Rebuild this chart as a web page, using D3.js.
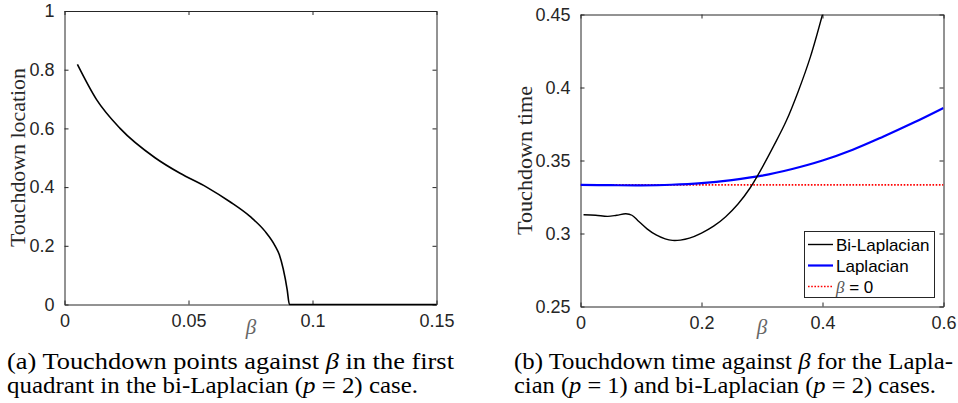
<!DOCTYPE html>
<html>
<head>
<meta charset="utf-8">
<script src="https://cdn.jsdelivr.net/npm/d3@7"></script>
<style>
  body { margin: 0; background: #fff; }
  svg { display: block; }
  .tick text { font-family: "Liberation Sans", Arial, sans-serif; font-size: 18px; fill: #262626; }
  .cap { font-family: "Liberation Serif", "Times New Roman", serif; font-size: 23px; fill: #000; }
</style>
</head>
<body>
<svg id="fig" width="958" height="403"></svg>
<script>
// (a) touchdown location vs beta, bi-Laplacian
const betaA = [0.0052, 0.013, 0.0224, 0.0365, 0.0466, 0.0573, 0.0667, 0.0748, 0.0808, 0.0849, 0.0866, 0.0898, 0.0907, 0.15];
const locA  = [0.818, 0.697, 0.600, 0.500, 0.447, 0.400, 0.350, 0.300, 0.250, 0.200, 0.170, 0.050, 0.000, 0.000];
const xTicksA = [0, 0.05, 0.1, 0.15];
const yTicksA = [0, 0.2, 0.4, 0.6, 0.8, 1];

// (b) touchdown time vs beta
const betaBi = [0.005, 0.025, 0.045, 0.06, 0.075, 0.085, 0.095, 0.11, 0.125, 0.14, 0.152, 0.165, 0.18, 0.2, 0.22, 0.24, 0.26, 0.28, 0.3, 0.32, 0.34, 0.36, 0.38, 0.4];
const timeBi = [0.3128, 0.3125, 0.3117, 0.3125, 0.3135, 0.3125, 0.3088, 0.3032, 0.2990, 0.2963, 0.2953, 0.2955, 0.2968, 0.3003, 0.3050, 0.3115, 0.3200, 0.3310, 0.3450, 0.3605, 0.3770, 0.3975, 0.4210, 0.4500];
const betaLap = [0, 0.05, 0.1, 0.15, 0.2, 0.25, 0.3, 0.35, 0.4, 0.45, 0.5, 0.55, 0.6];
const timeLap = [0.3333, 0.3331, 0.3330, 0.3334, 0.3345, 0.3366, 0.3396, 0.3442, 0.3500, 0.3574, 0.3663, 0.3758, 0.3860];
const betaZero = [0, 0.6];
const timeZero = [1 / 3, 1 / 3];
const xTicksB = [0, 0.2, 0.4, 0.6];
const yTicksB = [0.25, 0.3, 0.35, 0.4, 0.45];
const legendNames = ["Bi-Laplacian", "Laplacian", "β = 0"];

const svg = d3.select("#fig");
const axisColor = "#262626";
const fmt = d => String(+d.toFixed(2));

function panel(box, xDom, yDom, xTicks, yTicks) {
	const x = d3.scaleLinear().domain(xDom).range([box.left, box.right]);
	const y = d3.scaleLinear().domain(yDom).range([box.bottom, box.top]);
	const g = svg.append("g");
	// inward ticks on all four sides (matlab box on)
	const axes = [
		[d3.axisBottom(x).tickValues(xTicks).tickFormat(fmt), `translate(0,${box.bottom})`],
		[d3.axisTop(x).tickValues(xTicks).tickFormat(""), `translate(0,${box.top})`],
		[d3.axisLeft(y).tickValues(yTicks).tickFormat(fmt), `translate(${box.left},0)`],
		[d3.axisRight(y).tickValues(yTicks).tickFormat(""), `translate(${box.right},0)`]
	];
	axes.forEach(([ax, tr]) => {
		const a = g.append("g").attr("transform", tr)
			.call(ax.tickSizeInner(-4).tickSizeOuter(0).tickPadding(10));
		a.select(".domain").attr("stroke", axisColor);
		a.selectAll(".tick line").attr("stroke", axisColor);
	});
	g.selectAll(".tick text").attr("fill", axisColor);
	return {x, y, g};
}

// ---- panel (a)
const boxA = {left: 64.5, right: 436.5, top: 11, bottom: 304.5};
const pa = panel(boxA, [0, 0.15], [0, 1], xTicksA, yTicksA);
pa.g.append("path")
	.datum(betaA.map((b, i) => [b, locA[i]]))
	.attr("fill", "none").attr("stroke", "#000").attr("stroke-width", 1.6)
	.attr("d", d3.line().x(d => pa.x(d[0])).y(d => pa.y(d[1])).curve(d3.curveMonotoneX));

// ---- panel (b)
const boxB = {left: 580.5, right: 943.5, top: 14.5, bottom: 306.5};
const pb = panel(boxB, [0, 0.6], [0.25, 0.45], xTicksB, yTicksB);
svg.append("clipPath").attr("id", "clipB").append("rect")
	.attr("x", boxB.left).attr("y", boxB.top)
	.attr("width", boxB.right - boxB.left).attr("height", boxB.bottom - boxB.top);
const lineB = d3.line().x(d => pb.x(d[0])).y(d => pb.y(d[1])).curve(d3.curveCatmullRom);
const plotB = pb.g.append("g").attr("clip-path", "url(#clipB)");
plotB.append("path").datum(betaZero.map((b, i) => [b, timeZero[i]]))
	.attr("fill", "none").attr("stroke", "#ff0000").attr("stroke-width", 1.6)
	.attr("stroke-dasharray", "1.6,1.6").attr("d", lineB);
plotB.append("path").datum(betaLap.map((b, i) => [b, timeLap[i]]))
	.attr("fill", "none").attr("stroke", "#0000ff").attr("stroke-width", 2.2).attr("d", lineB);
plotB.append("path").datum(betaBi.map((b, i) => [b, timeBi[i]]))
	.attr("fill", "none").attr("stroke", "#000").attr("stroke-width", 1.4).attr("d", lineB);

// legend
const leg = pb.g.append("g");
leg.append("rect").attr("x", 804.5).attr("y", 231.5).attr("width", 130).attr("height", 66)
	.attr("fill", "#fff").attr("stroke", axisColor);
const legStyles = [
	{stroke: "#000", w: 1.4, dash: null},
	{stroke: "#0000ff", w: 2.2, dash: null},
	{stroke: "#ff0000", w: 1.6, dash: "1.6,1.6"}
];
legendNames.forEach((name, i) => {
	const yy = 244.5 + i * 21;
	leg.append("line").attr("x1", 808).attr("x2", 833).attr("y1", yy).attr("y2", yy)
		.attr("stroke", legStyles[i].stroke).attr("stroke-width", legStyles[i].w)
		.attr("stroke-dasharray", legStyles[i].dash);
	const t = leg.append("text").attr("x", 836).attr("y", yy + 6)
		.style("font-family", "'Liberation Sans', Arial, sans-serif").style("font-size", "17px").attr("fill", "#000");
	if (name.startsWith("β")) {
		t.append("tspan").text("β").style("font-family", "'Liberation Serif', serif").style("font-style", "italic").attr("fill", "#555");
		t.append("tspan").text(name.slice(1));
	} else t.text(name);
});

// axis titles
const serif = "'Liberation Serif', 'Times New Roman', serif";
svg.append("text").attr("transform", "translate(25,157.5) rotate(-90)")
	.attr("text-anchor", "middle").attr("textLength", 179).attr("lengthAdjust", "spacingAndGlyphs")
	.style("font-family", serif).style("font-size", "21px").attr("fill", "#262626").text("Touchdown location");
svg.append("text").attr("transform", "translate(532,160.5) rotate(-90)")
	.attr("text-anchor", "middle").attr("textLength", 149).attr("lengthAdjust", "spacingAndGlyphs")
	.style("font-family", serif).style("font-size", "21px").attr("fill", "#262626").text("Touchdown time");
[[251, 334], [762, 334]].forEach(([bx, by]) => {
	svg.append("text").attr("x", bx).attr("y", by).attr("text-anchor", "middle")
		.style("font-family", serif).style("font-size", "21px").style("font-style", "italic")
		.attr("fill", "#666").text("β");
});

// captions
const captions = [
	{x: 7, y: 369, len: 447, parts: ["(a) Touchdown points against ", ["β"], " in the first"]},
	{x: 7, y: 393, len: 411, parts: ["quadrant in the bi-Laplacian (", ["p"], " = 2) case."]},
	{x: 514, y: 369, len: 439, parts: ["(b) Touchdown time against ", ["β"], " for the Lapla-"]},
	{x: 514, y: 393, len: 422, parts: ["cian (", ["p"], " = 1) and bi-Laplacian (", ["p"], " = 2) cases."]}
];
captions.forEach(c => {
	const t = svg.append("text").attr("class", "cap").attr("x", c.x).attr("y", c.y)
		.attr("textLength", c.len).attr("lengthAdjust", "spacingAndGlyphs");
	c.parts.forEach(p => {
		if (Array.isArray(p)) t.append("tspan").style("font-style", "italic").text(p[0]);
		else t.append("tspan").text(p);
	});
});
</script>
</body>
</html>
